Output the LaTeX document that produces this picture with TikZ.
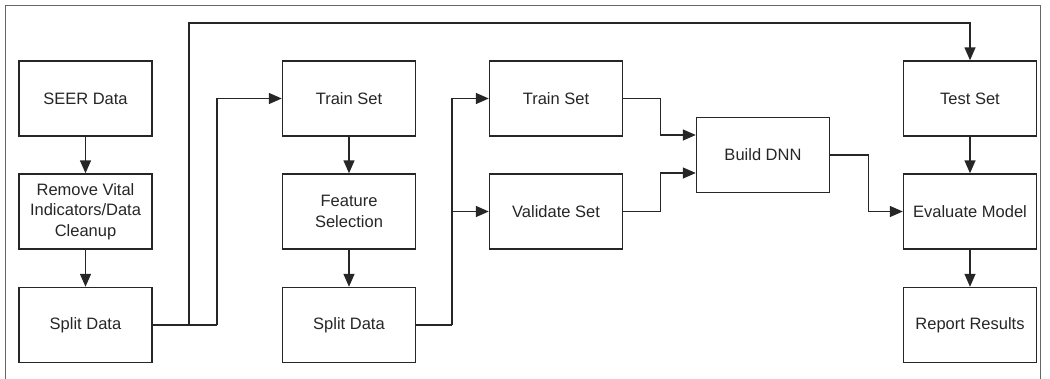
\documentclass[tikz,border=0pt]{standalone}
\usepackage{fontspec}
\setmainfont{Liberation Sans}
\usetikzlibrary{arrows.meta}
\begin{document}
\begin{tikzpicture}[x=1pt,y=-1pt,
  box/.style={draw=black!85,line width=1.4pt,rectangle,minimum width=133pt,minimum height=75pt,
    align=center,inner sep=2pt,font=\fontsize{16.5}{20.5}\selectfont,text=black!85},
  arr/.style={draw=black!85,line width=1.4pt,-{Triangle[length=13pt,width=11pt]}},
  conn/.style={draw=black!85,line width=1.4pt}]
\useasboundingbox (0,0) rectangle (1050,378);
\draw[black!60,line width=1pt] (5.5,380) -- (5.5,5.5) -- (1040,5.5) -- (1040,380);
% column 1
\node[box] (seer) at (85.5,98.5) {SEER Data};
\node[box] (clean) at (85.5,211.5) {Remove Vital\\Indicators/Data\\Cleanup};
\node[box] (sd1) at (85.5,325) {Split Data};
% column 2
\node[box] (ts2) at (349,98.5) {Train Set};
\node[box] (fs) at (349,211.5) {Feature\\Selection};
\node[box] (sd2) at (349,325) {Split Data};
% column 3
\node[box] (ts3) at (556,98.5) {Train Set};
\node[box] (vs) at (556,211.5) {Validate Set};
% column 4
\node[box] (dnn) at (763,155) {Build DNN};
% column 5
\node[box] (test) at (970,98.5) {Test Set};
\node[box] (eval) at (970,211.5) {Evaluate Model};
\node[box] (rep) at (970,325) {Report Results};
% vertical arrows
\draw[arr] (seer) -- (clean);
\draw[arr] (clean) -- (sd1);
\draw[arr] (ts2) -- (fs);
\draw[arr] (fs) -- (sd2);
\draw[arr] (test) -- (eval);
\draw[arr] (eval) -- (rep);
% split data 1
\coordinate (j0) at (189,325);
\coordinate (j1) at (217,325);
\coordinate (top) at (189,23);
\draw[conn] (sd1.east) -- (j1);
\draw[arr] (j1) |- (ts2.west);
\draw[arr] (j0) -- (top) -| (test.north);
% split data 2
\coordinate (j2) at (452,325);
\draw[conn] (sd2.east) -- (j2);
\draw[arr] (j2) |- (ts3.west);
\draw[arr] (j2) |- (vs.west);
% into build dnn
\draw[arr] (ts3.east) -- ++(37,0) |- ([yshift=20pt]dnn.west);
\draw[arr] (vs.east) -- ++(37,0) |- ([yshift=-18pt]dnn.west);
% dnn to evaluate
\draw[arr] (dnn.east) -- ++(38,0) |- (eval.west);
\end{tikzpicture}
\end{document}
